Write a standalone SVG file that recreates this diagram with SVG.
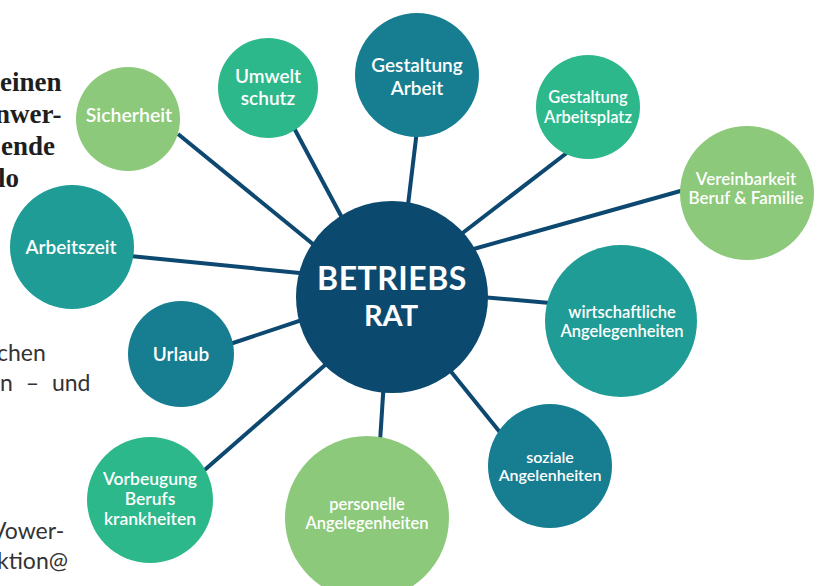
<svg xmlns="http://www.w3.org/2000/svg" width="819" height="586" viewBox="0 0 819 586">
  <style>
    .lbl { font-family: Lato, "Noto Sans", sans-serif; font-weight: 600; fill: #ffffff; text-anchor: middle; }
    .hub { font-family: Lato, "Noto Sans", sans-serif; font-weight: 700; fill: #ffffff; text-anchor: middle; }
    .lg { fill: #8cc97a; }
    .gr { fill: #2cb88b; }
    .tl { fill: #1f9c95; }
    .bt { fill: #177e92; }
    .ct { fill: #0b4a6e; }
    .edge { stroke: #0d4870; stroke-width: 4; stroke-linecap: butt; fill: none; }
    .side-b { font-family: "Liberation Serif", serif; font-weight: 700; font-size: 27px; fill: #1e1e1e; }
    .side-r { font-family: Lato, "Noto Sans", sans-serif; font-size: 23px; fill: #333333; }
  </style>

  <rect width="819" height="586" fill="#ffffff"/>

  <!-- surrounding page text, cut by the left edge -->
  <g id="page-text">
    <text class="side-b" x="0" y="91">einen</text>
    <text class="side-b" x="-5" y="123">nwer-</text>
    <text class="side-b" x="1" y="155">ende</text>
    <text class="side-b" x="-2" y="187">lo</text>
    <text class="side-r" x="-3" y="361">chen</text>
    <text class="side-r" x="0" y="391" word-spacing="7">n – und</text>
    <text class="side-r" x="-9" y="539">Vower-</text>
    <text class="side-r" x="-3" y="569">ktion@</text>
  </g>

  <!-- connectors from the hub to each topic -->
  <g id="connectors">
    <line class="edge" x1="178" y1="134" x2="330" y2="258"/>
    <line class="edge" x1="294" y1="128" x2="354" y2="240"/>
    <line class="edge" x1="417" y1="130" x2="405" y2="230"/>
    <line class="edge" x1="568" y1="152" x2="460" y2="235"/>
    <line class="edge" x1="684" y1="190" x2="470" y2="250"/>
    <line class="edge" x1="130" y1="256" x2="320" y2="275"/>
    <line class="edge" x1="230" y1="344" x2="320" y2="314"/>
    <line class="edge" x1="470" y1="296" x2="550" y2="303"/>
    <line class="edge" x1="440" y1="358" x2="503" y2="436"/>
    <line class="edge" x1="200" y1="474" x2="340" y2="352"/>
    <line class="edge" x1="384" y1="380" x2="380" y2="442"/>
  </g>

  <g id="sicherheit">
    <circle class="lg" cx="128" cy="119" r="52"/>
    <text class="lbl" x="129" y="122" font-size="19.5">Sicherheit</text>
  </g>

  <g id="umweltschutz">
    <circle class="gr" cx="268" cy="88" r="50"/>
    <text class="lbl" x="268" y="83" font-size="19">Umwelt</text>
    <text class="lbl" x="268" y="105" font-size="19">schutz</text>
  </g>

  <g id="gestaltung-arbeit">
    <circle class="bt" cx="417" cy="75" r="62"/>
    <text class="lbl" x="417" y="72" font-size="19">Gestaltung</text>
    <text class="lbl" x="417" y="95" font-size="19">Arbeit</text>
  </g>

  <g id="gestaltung-arbeitsplatz">
    <circle class="gr" cx="588" cy="107" r="52"/>
    <text class="lbl" x="588" y="103" font-size="16.5">Gestaltung</text>
    <text class="lbl" x="588" y="123" font-size="16.5">Arbeitsplatz</text>
  </g>

  <g id="vereinbarkeit">
    <circle class="lg" cx="747" cy="193" r="67"/>
    <text class="lbl" x="746" y="185" font-size="17">Vereinbarkeit</text>
    <text class="lbl" x="746" y="204" font-size="17">Beruf &amp; Familie</text>
  </g>

  <g id="arbeitszeit">
    <circle class="tl" cx="72" cy="247" r="62"/>
    <text class="lbl" x="71" y="254" font-size="19">Arbeitszeit</text>
  </g>

  <g id="urlaub">
    <circle class="bt" cx="181" cy="354" r="53"/>
    <text class="lbl" x="181" y="361" font-size="19">Urlaub</text>
  </g>

  <g id="wirtschaftliche">
    <circle class="tl" cx="621" cy="321" r="76"/>
    <text class="lbl" x="622" y="318" font-size="16.5">wirtschaftliche</text>
    <text class="lbl" x="622" y="337" font-size="16.5">Angelegenheiten</text>
  </g>

  <g id="soziale">
    <circle class="bt" cx="550" cy="466" r="62"/>
    <text class="lbl" x="550" y="463" font-size="16">soziale</text>
    <text class="lbl" x="550" y="481" font-size="16">Angelenheiten</text>
  </g>

  <g id="vorbeugung">
    <circle class="gr" cx="150" cy="500" r="63"/>
    <text class="lbl" x="150" y="485" font-size="17.5">Vorbeugung</text>
    <text class="lbl" x="150" y="505" font-size="17.5">Berufs</text>
    <text class="lbl" x="150" y="525" font-size="17.5">krankheiten</text>
  </g>

  <g id="personelle">
    <circle class="lg" cx="367" cy="518" r="82"/>
    <text class="lbl" x="367" y="510" font-size="16.5">personelle</text>
    <text class="lbl" x="367" y="529" font-size="16.5">Angelegenheiten</text>
  </g>

  <g id="betriebsrat">
    <circle class="ct" cx="392" cy="297" r="96"/>
    <text class="hub" x="392" y="290" font-size="32" letter-spacing="0.5">BETRIEBS</text>
    <text class="hub" x="391" y="326" font-size="29">RAT</text>
  </g>
</svg>
